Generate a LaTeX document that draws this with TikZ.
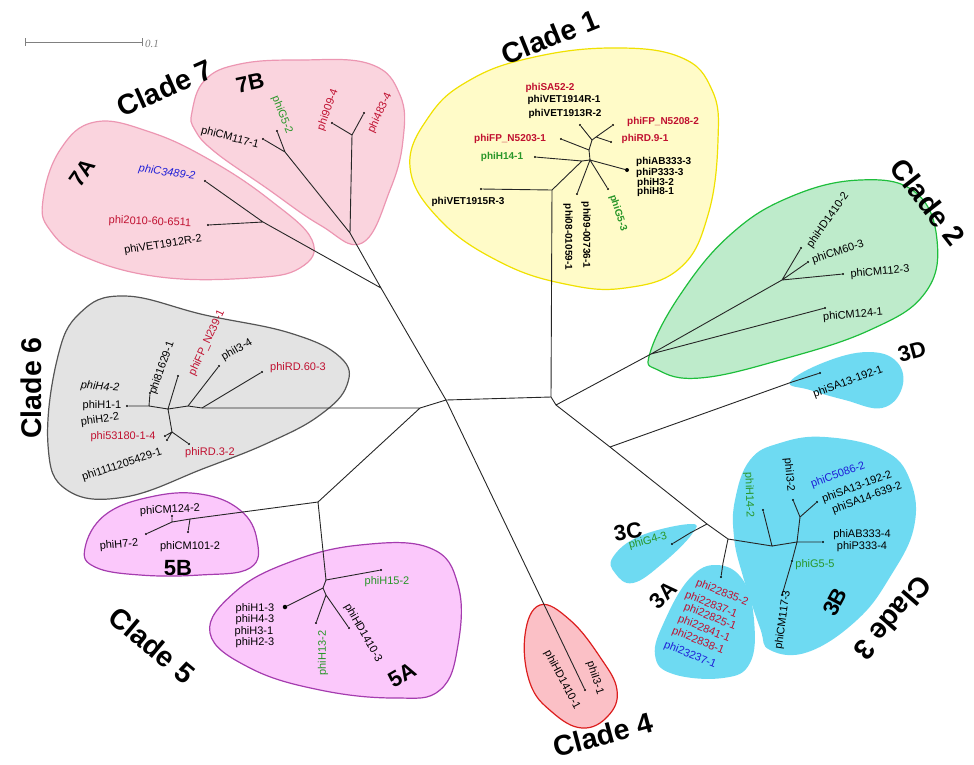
\documentclass[tikz,border=0pt]{standalone}
\usepackage{fontspec}
\setmainfont{Liberation Sans}
\newfontfamily\scalefont{Liberation Serif}
\usetikzlibrary{calc,positioning}
\definecolor{cred}{RGB}{192,16,48}
\definecolor{cgreen}{RGB}{40,150,40}
\definecolor{cblue}{RGB}{30,30,215}
\definecolor{cpinkfill}{RGB}{250,212,222}
\definecolor{cpinkdraw}{RGB}{236,150,178}
\definecolor{cyellowfill}{RGB}{255,251,200}
\definecolor{cyellowdraw}{RGB}{240,225,0}
\definecolor{cgreenfill}{RGB}{190,235,203}
\definecolor{cgreendraw}{RGB}{30,190,60}
\definecolor{cgrayfill}{RGB}{227,227,227}
\definecolor{cgraydraw}{RGB}{85,85,85}
\definecolor{cmagfill}{RGB}{251,200,251}
\definecolor{cmagdraw}{RGB}{165,60,175}
\definecolor{ccyanfill}{RGB}{110,218,242}
\definecolor{credfill}{RGB}{251,192,198}
\definecolor{creddraw}{RGB}{220,30,30}
\tikzset{
	branch/.style={draw=black!85, line width=0.9pt},%
	leaf/.style={circle, fill=black, inner sep=0pt, minimum size=2.4pt},%
	taxon/.style={font=\fontsize{11}{11}\selectfont, inner sep=0pt},%
	taxonb/.style={font=\bfseries\fontsize{10}{11}\selectfont, inner sep=0pt},%
	cladename/.style={font=\bfseries\fontsize{28.5}{30}\selectfont, inner sep=0pt},%
	subclade/.style={font=\bfseries\fontsize{22}{24}\selectfont, inner sep=0pt},%
	blob/.style={line width=1.2pt},%
}
\begin{document}
\begin{tikzpicture}[x=1pt, y=-1pt]
	\useasboundingbox (0,0) rectangle (974,764);

	% clade areas
	\draw[blob, fill=cpinkfill, draw=cpinkdraw] plot[smooth cycle, tension=0.7] coordinates {(43,200) (60,150) (95,122) (150,132) (210,160) (270,200) (312,240) (300,268) (250,278) (160,277) (85,257) (50,230)};
	\draw[blob, fill=cpinkfill, draw=cpinkdraw] plot[smooth cycle, tension=0.7] coordinates {(192,112) (205,80) (240,64) (300,60) (370,64) (400,95) (403,140) (390,190) (362,243) (320,225) (265,187) (215,152) (195,130)};
	\draw[blob, fill=cyellowfill, draw=cyellowdraw] plot[smooth cycle, tension=0.7] coordinates {(410,167) (430,115) (470,80) (530,58) (610,48) (680,57) (712,90) (718,140) (708,215) (680,268) (625,288) (565,284) (500,262) (440,220)};
	\draw[blob, fill=cgreenfill, draw=cgreendraw] plot[smooth cycle, tension=0.7] coordinates {(650,353) (680,295) (730,235) (790,197) (860,180) (915,192) (937,240) (925,293) (870,330) (780,360) (700,378) (658,370)};
	\fill[ccyanfill] plot[smooth cycle, tension=0.7] coordinates {(790,382) (825,362) (868,352) (897,362) (902,388) (882,408) (845,400) (810,390)};
	\draw[blob, fill=cgrayfill, draw=cgraydraw] plot[smooth cycle, tension=0.7] coordinates {(57,360) (80,313) (125,296) (205,315) (290,333) (340,357) (347,385) (320,415) (270,442) (205,468) (125,497) (67,490) (48,445)};
	\draw[blob, fill=cmagfill, draw=cmagdraw] plot[smooth cycle, tension=0.7] coordinates {(85,548) (105,515) (150,497) (200,494) (240,510) (257,540) (250,568) (200,575) (140,575) (95,567)};
	\draw[blob, fill=cmagfill, draw=cmagdraw] plot[smooth cycle, tension=0.7] coordinates {(210,633) (235,592) (290,562) (360,545) (430,548) (458,585) (458,645) (440,690) (395,698) (320,690) (250,668)};
	\draw[blob, fill=credfill, draw=creddraw] plot[smooth cycle, tension=0.7] coordinates {(540,605) (525,635) (530,683) (552,712) (582,728) (608,716) (617,690) (600,657) (570,620)};
	\fill[ccyanfill] plot[smooth cycle, tension=0.7] coordinates {(613,557) (640,536) (690,524) (692,534) (663,563) (633,583) (615,573)};
	\fill[ccyanfill] plot[smooth cycle, tension=0.7] coordinates {(717,565) (690,578) (665,620) (655,655) (673,674) (723,678) (750,663) (754,620) (743,580)};
	\fill[ccyanfill] plot[smooth cycle, tension=0.7] coordinates {(735,500) (750,460) (780,443) (825,437) (883,450) (910,480) (914,527) (890,577) (857,620) (808,652) (770,650) (760,628) (742,573) (734,537)};

	% scale bar
	\coordinate (sbL) at (25,42);
	\coordinate (sbR) at (142,42);
	\draw[gray, line width=1pt] (sbL) -- (sbR) (sbL) ++(0,-4) -- ++(0,8) (sbR) ++(0,-4) -- ++(0,8);
	\node[gray, right=3pt of sbR, font=\scalefont\itshape\fontsize{11}{12}\selectfont, inner sep=0pt, yshift=-2pt] (sbT) {0.1};

	% inner nodes
	\coordinate (nA) at (446,400);
	\coordinate (nB) at (551,397);
	\coordinate (nB2) at (556,405);
	\coordinate (nC) at (610,447);
	\coordinate (nD) at (707,524);
	\coordinate (nE) at (728,539);
	\coordinate (nJ) at (381,288);
	\coordinate (nM) at (420,408);
	\coordinate (nQ) at (318,502);
	\coordinate (nT) at (326,580);
	\coordinate (c7a) at (263,222);
	\coordinate (c7b) at (350,233);
	\coordinate (c7k) at (285,152);
	\coordinate (c7l) at (352,135);
	\coordinate (c1r) at (552,190);
	\coordinate (c1a) at (582,161);
	\coordinate (c1b) at (590,160);
	\coordinate (c1c) at (589,150);
	\coordinate (c1d) at (592,140);
	\coordinate (c1e) at (596,137);
	\coordinate (c2r) at (651,354);
	\coordinate (c2a) at (782,280);
	\coordinate (c3d) at (792,382);
	\coordinate (c3c) at (690,533);
	\coordinate (c3a) at (723,563);
	\coordinate (c3f) at (772,546);
	\coordinate (c3g) at (797,542);
	\coordinate (c3h) at (800,517);
	\coordinate (c6r) at (202,408);
	\coordinate (c6a) at (188,406);
	\coordinate (c6b) at (168,409);
	\coordinate (c6c) at (149,406);
	\coordinate (c6d) at (172,432);
	\coordinate (c5b) at (190,519);
	\coordinate (c5c) at (172,522);
	\coordinate (c5d) at (323,588);
	\coordinate (c5e) at (326,595);

	% leaves
	\node[leaf] (vC3489) at (205,181) {};
	\node[leaf] (v2010) at (208,225) {};
	\node[leaf] (vCM1171) at (263,139) {};
	\node[leaf] (vG52) at (277,131) {};
	\node[leaf] (v909) at (332,123) {};
	\node[leaf] (v483) at (364,113) {};
	\node[leaf] (vVET1915) at (481,189) {};
	\node[leaf] (vH141) at (535,157) {};
	\node[leaf] (v09) at (577,194) {};
	\node[leaf] (vG53) at (608,189) {};
	\node[leaf, minimum size=4pt] (vAB3333) at (627,170) {};
	\node[leaf] (vN5203) at (561,139) {};
	\node[leaf] (vSA52) at (580,125) {};
	\node[leaf] (vN5208) at (613,125) {};
	\node[leaf] (vRD91) at (611,142) {};
	\node[leaf] (vCM1241) at (825,308) {};
	\node[leaf] (vHD14102) at (801,248) {};
	\node[leaf] (vCM603) at (808,262) {};
	\node[leaf] (vCM1123) at (843,274) {};
	\node[leaf] (vSA131921) at (820,373) {};
	\node[leaf] (vG43) at (672,544) {};
	\node[leaf] (v22835) at (721,577) {};
	\node[leaf] (vH142) at (763,510) {};
	\node[leaf] (vI32) at (793,500) {};
	\node[leaf] (vC5086) at (817,502) {};
	\node[leaf] (vAB3334) at (823,542) {};
	\node[leaf] (vG55) at (792,561) {};
	\node[leaf] (vCM1173) at (782,595) {};
	\node[leaf] (vI31) at (585,690) {};
	\node[leaf] (vRD603) at (262,372) {};
	\node[leaf] (vI34) at (219,366) {};
	\node[leaf] (vN239) at (178,376) {};
	\node[leaf] (v81629) at (150,393) {};
	\node[leaf] (vH11) at (127,406) {};
	\node[leaf] (vRD32) at (189,444) {};
	\node[leaf] (v53180) at (165,436) {};
	\node[leaf] (v1111) at (167,440) {};
	\node[leaf] (vCM1012) at (188,532) {};
	\node[leaf] (vCM1242) at (172,516) {};
	\node[leaf] (vH72) at (146,534) {};
	\node[leaf] (vH152) at (381,570) {};
	\node[leaf, minimum size=4.5pt] (vH13) at (285,607) {};
	\node[leaf] (vH132) at (316,623) {};
	\node[leaf] (vHD14103) at (349,628) {};

	% branches
	\draw[branch] (nA) -- (nB) -- (c1r) (nB) -- (nB2) -- (c2r) (nB2) -- (nC) -- (nD) -- (nE);
	\draw[branch] (nA) -- (nJ) (nA) -- (nM) -- (c6r) (nM) -- (nQ) -- (nT) (nA) -- (vI31);
	\draw[branch] (nJ) -- (c7a) -- (vC3489) (c7a) -- (v2010) (nJ) -- (c7b) -- (c7k) -- (vCM1171) (c7k) -- (vG52) (c7b) -- (c7l) -- (v909) (c7l) -- (v483);
	\draw[branch] (c1r) -- (vVET1915) (c1r) -- (c1a) -- (vH141) (c1a) -- (c1b) -- (v09) (c1b) -- (vG53) (c1b) -- (vAB3333) (c1b) -- (c1c) -- (vN5203) (c1c) -- (c1d) -- (vSA52) (c1d) -- (c1e) -- (vN5208) (c1e) -- (vRD91);
	\draw[branch] (c2r) -- (vCM1241) (c2r) -- (c2a) -- (vHD14102) (c2a) -- (vCM603) (c2a) -- (vCM1123);
	\draw[branch] (nC) -- (c3d) -- (vSA131921) (nD) -- (c3c) -- (vG43) (nE) -- (c3a) -- (v22835) (nE) -- (c3f) -- (vH142) (c3f) -- (c3g) -- (c3h) -- (vI32) (c3h) -- (vC5086) (c3g) -- (vAB3334) (c3g) -- (vG55) -- (vCM1173);
	\draw[branch] (c6r) -- (vRD603) (c6r) -- (c6a) -- (vI34) (c6a) -- (c6b) -- (vN239) (c6b) -- (c6c) -- (v81629) (c6c) -- (vH11) (c6b) -- (c6d) -- (vRD32) (c6d) -- (v53180) (c6d) -- (v1111);
	\draw[branch] (nQ) -- (c5b) -- (vCM1012) (c5b) -- (c5c) -- (vCM1242) (c5c) -- (vH72) (nT) -- (vH152) (nT) -- (c5d) -- (vH13) (c5d) -- (c5e) -- (vH132) (c5e) -- (vHD14103);

	% clade names
	\node[cladename, rotate=22] (tC1) at (550,37) {Clade 1};
	\node[cladename, rotate=-52] (tC2) at (928,202) {Clade 2};
	\node[cladename, rotate=-131] (tC3) at (893,618) {Clade 3};
	\node[cladename, rotate=15] (tC4) at (603,735) {Clade 4};
	\node[cladename, rotate=-40] (tC5) at (152,645) {Clade 5};
	\node[cladename, rotate=90] (tC6) at (31,388) {Clade 6};
	\node[cladename, rotate=24] (tC7) at (165,88) {Clade 7};
	\node[subclade, rotate=55] (t7A) at (82,173) {7A};
	\node[subclade, rotate=12] (t7B) at (250,83) {7B};
	\node[subclade, rotate=15] (t3D) at (912,352) {3D};
	\node[subclade, rotate=10] (t3C) at (628,532) {3C};
	\node[subclade, rotate=45] (t3A) at (663,595) {3A};
	\node[subclade, rotate=62] (t3B) at (835,602) {3B};
	\node[subclade] (t5B) at (178,568) {5B};
	\node[subclade, rotate=30] (t5A) at (402,675) {5A};

	% clade 7
	\node[taxon, text=cblue, font=\itshape\fontsize{11}{11}\selectfont, rotate=-8] (lC3489) at (167,173) {phiC3489-2};
	\node[taxon, text=cred, rotate=-2] (l2010) at (150,222) {phi2010-60-6511};
	\node[taxon, rotate=9] (lVET1912) at (163,245) {phiVET1912R-2};
	\node[taxon, rotate=-15] (lCM1171) at (230,138) {phiCM117-1};
	\node[taxon, text=cgreen, rotate=-68] (lG52) at (282,115) {phiG5-2};
	\node[taxon, text=cred, rotate=70] (l909) at (328,110) {phi909-4};
	\node[taxon, text=cred, rotate=65] (l483) at (380,113) {phi483-4};

	% clade 1
	\node[taxonb, text=cred] (lSA52) at (550,88) {phiSA52-2};
	\node[taxonb] (lVET1914) at (564,100) {phiVET1914R-1};
	\node[taxonb] (lVET1913) at (565,114) {phiVET1913R-2};
	\node[taxonb, text=cred] (lN5208) at (663,122) {phiFP\_N5208-2};
	\node[taxonb, text=cred] (lN5203) at (510,139) {phiFP\_N5203-1};
	\node[taxonb, text=cred] (lRD91) at (645,139) {phiRD.9-1};
	\node[taxonb, text=cgreen] (lH141) at (502,157) {phiH14-1};
	\node[taxonb, anchor=west] (lAB3333) at (636,162) {phiAB333-3};
	\node[taxonb, anchor=west] (lP3333) at (636,173) {phiP333-3};
	\node[taxonb, anchor=west] (lH32) at (637,183) {phiH3-2};
	\node[taxonb, anchor=west] (lH81) at (637,192) {phiH8-1};
	\node[taxonb] (lVET1915) at (468,202) {phiVET1915R-3};
	\node[taxonb, rotate=-90] (l08) at (568,237) {phi08-01059-1};
	\node[taxonb, rotate=-90] (l09) at (586,235) {phi09-00736-1};
	\node[taxonb, text=cgreen, rotate=-72] (lG53) at (618,213) {phiG5-3};

	% clade 2
	\node[taxon, rotate=55] (lHD14102) at (828,220) {phiHD1410-2};
	\node[taxon, rotate=18] (lCM603) at (838,252) {phiCM60-3};
	\node[taxon, rotate=5] (lCM1123) at (880,272) {phiCM112-3};
	\node[taxon, rotate=5] (lCM1241) at (853,315) {phiCM124-1};

	% clade 3
	\node[taxon, rotate=20] (lSA131921) at (848,382) {phiSA13-192-1};
	\node[taxon, text=cgreen, rotate=15] (lG43) at (648,541) {phiG4-3};
	\node[taxon, text=cred, rotate=-22] (l22835) at (722,593) {phi22835-2};
	\node[taxon, text=cred, rotate=-22] (l22837) at (711,605) {phi22837-1};
	\node[taxon, text=cred, rotate=-22] (l22825) at (710,617) {phi22825-1};
	\node[taxon, text=cred, rotate=-22] (l22841) at (704,629) {phi22841-1};
	\node[taxon, text=cred, rotate=-22] (l22838) at (698,641) {phi22838-1};
	\node[taxon, text=cblue, rotate=-22] (l23237) at (690,655) {phi23237-1};
	\node[taxon, text=cgreen, rotate=-88] (lH142) at (749,495) {phiH14-2};
	\node[taxon, rotate=-85] (lI32) at (789,475) {phiI3-2};
	\node[taxon, text=cblue, rotate=20] (lC5086) at (838,475) {phiC5086-2};
	\node[taxon, rotate=20] (lSA131922) at (857,487) {phiSA13-192-2};
	\node[taxon, rotate=20] (lSA146392) at (867,498) {phiSA14-639-2};
	\node[taxon] (lAB3334) at (862,535) {phiAB333-4};
	\node[taxon] (lP3334) at (862,547) {phiP333-4};
	\node[taxon, text=cgreen] (lG55) at (815,565) {phiG5-5};
	\node[taxon, rotate=82] (lCM1173) at (783,620) {phiCM117-3};

	% clade 4
	\node[taxon, rotate=-62] (lHD14101) at (562,680) {phiHD1410-1};
	\node[taxon, rotate=-72] (lI31) at (595,678) {phiI3-1};

	% clade 5
	\node[taxon, rotate=3] (lCM1242) at (170,510) {phiCM124-2};
	\node[taxon, rotate=5] (lH72) at (119,545) {phiH7-2};
	\node[taxon] (lCM1012) at (190,547) {phiCM101-2};
	\node[taxon, text=cgreen] (lH152) at (387,582) {phiH15-2};
	\node[taxon] (lH13) at (255,609) {phiH1-3};
	\node[taxon] (lH43) at (255,620) {phiH4-3};
	\node[taxon] (lH31) at (254,632) {phiH3-1};
	\node[taxon] (lH23) at (255,643) {phiH2-3};
	\node[taxon, text=cgreen, rotate=90] (lH132) at (323,653) {phiH13-2};
	\node[taxon, rotate=-60] (lHD14103) at (363,633) {phiHD1410-3};

	% clade 6
	\node[taxon, font=\itshape\fontsize{11}{11}\selectfont, rotate=-5] (lH42) at (100,387) {phiH4-2};
	\node[taxon] (lH11) at (102,406) {phiH1-1};
	\node[taxon, rotate=8] (lH22) at (100,420) {phiH2-2};
	\node[taxon, text=cred] (l53180) at (123,437) {phi53180-1-4};
	\node[taxon, rotate=18] (l1111) at (122,465) {phi1111205429-1};
	\node[taxon, rotate=70] (l81629) at (162,368) {phi81629-1};
	\node[taxon, text=cred, rotate=65] (lN239) at (207,343) {phiFP\_N239-1};
	\node[taxon, rotate=30] (lI34) at (237,350) {phiI3-4};
	\node[taxon, text=cred] (lRD603) at (298,368) {phiRD.60-3};
	\node[taxon, text=cred] (lRD32) at (210,453) {phiRD.3-2};
\end{tikzpicture}
\end{document}
